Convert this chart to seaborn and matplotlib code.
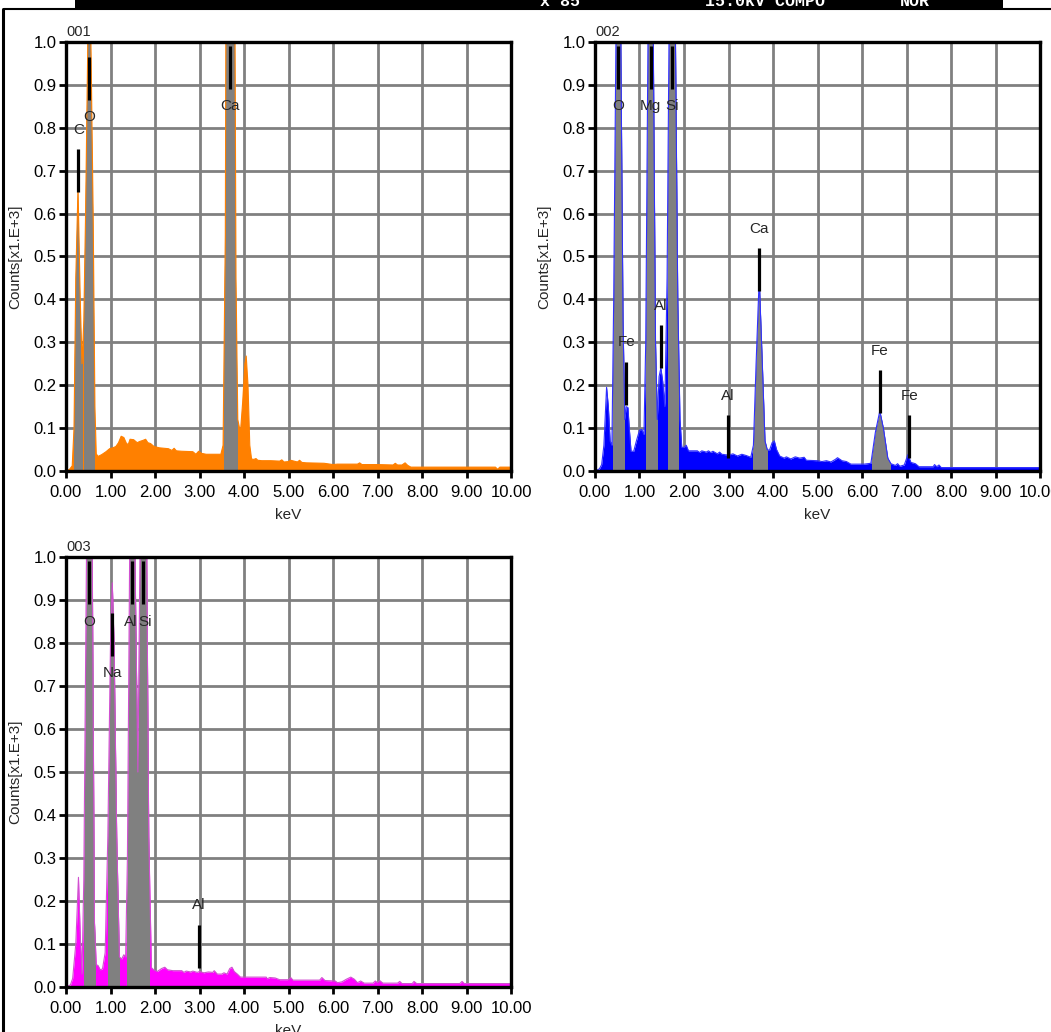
import numpy as np
import matplotlib
matplotlib.use("Agg")
import matplotlib.pyplot as plt
from matplotlib.patches import Rectangle
from matplotlib.lines import Line2D
import seaborn as sns

# ---------------- spectrum 001 ----------------
energy_001 = [0.00, 0.08, 0.14, 0.18, 0.22, 0.27, 0.32, 0.36, 0.40, 0.44, 0.49, 0.525, 0.56, 0.61,
              0.65, 0.68, 0.72, 0.80, 0.90, 0.98, 1.05, 1.12, 1.18, 1.24, 1.30, 1.36, 1.40, 1.44,
              1.52, 1.60, 1.66, 1.72, 1.79, 1.84, 1.90, 1.98, 2.10, 2.30, 2.38, 2.43, 2.48, 2.60,
              2.85, 2.92, 2.98, 3.05, 3.15, 3.48, 3.53, 3.58, 3.62, 3.69, 3.76, 3.82, 3.86, 3.92,
              3.97, 4.02, 4.05, 4.09, 4.13, 4.17, 4.22, 4.27, 4.31, 4.40, 4.60, 4.80, 4.85, 4.90,
              5.00, 5.05, 5.20, 5.25, 5.30, 5.40, 5.80, 6.00, 6.10, 6.55, 6.60, 6.65, 7.00, 7.35,
              7.40, 7.45, 7.55, 7.62, 7.68, 7.75, 9.65, 9.70, 9.75, 10.00]
counts_001 = [0.000, 0.004, 0.012, 0.10, 0.45, 0.66, 0.40, 0.25, 0.35, 0.60, 1.00, 1.20, 1.00, 0.60,
              0.15, 0.040, 0.034, 0.038, 0.045, 0.052, 0.054, 0.057, 0.066, 0.081, 0.078, 0.064, 0.062, 0.074,
              0.073, 0.066, 0.069, 0.071, 0.074, 0.066, 0.064, 0.057, 0.054, 0.052, 0.048, 0.053, 0.047, 0.046,
              0.045, 0.039, 0.046, 0.041, 0.039, 0.039, 0.06, 0.55, 2.00, 4.00, 2.00, 0.45, 0.12, 0.09,
              0.16, 0.25, 0.268, 0.20, 0.06, 0.028, 0.027, 0.029, 0.025, 0.024, 0.024, 0.023, 0.026, 0.021,
              0.022, 0.025, 0.021, 0.025, 0.020, 0.019, 0.018, 0.015, 0.016, 0.016, 0.019, 0.015, 0.015, 0.014,
              0.018, 0.014, 0.014, 0.019, 0.013, 0.009, 0.009, 0.004, 0.009, 0.009]
roi_001 = [(0.19, 0.39), (0.40, 0.66), (3.56, 3.86)]
lines_001 = ["C", "O", "Ca"]
line_kev_001 = [0.277, 0.525, 3.69]
line_top_001 = [0.75, 0.965, 0.99]

# ---------------- spectrum 002 ----------------
energy_002 = [0.00, 0.10, 0.15, 0.20, 0.26, 0.30, 0.34, 0.38, 0.42, 0.47, 0.525, 0.58, 0.63, 0.67,
              0.70, 0.74, 0.77, 0.81, 0.87, 0.93, 1.00, 1.05, 1.10, 1.14, 1.19, 1.253, 1.31, 1.36,
              1.40, 1.44, 1.48, 1.52, 1.57, 1.62, 1.67, 1.739, 1.80, 1.86, 1.91, 1.95, 2.00, 2.05,
              2.10, 2.30, 2.35, 2.40, 2.50, 2.55, 2.60, 2.65, 2.75, 2.80, 2.85, 3.00, 3.10, 3.20,
              3.30, 3.40, 3.50, 3.56, 3.62, 3.69, 3.76, 3.82, 3.87, 3.92, 3.98, 4.03, 4.08, 4.15,
              4.25, 4.30, 4.40, 4.50, 4.60, 4.70, 4.75, 5.00, 5.10, 5.20, 5.30, 5.40, 5.45, 5.55,
              5.65, 5.75, 6.05, 6.20, 6.30, 6.40, 6.48, 6.58, 6.65, 6.75, 6.80, 6.85, 6.95, 7.03,
              7.10, 7.20, 7.28, 7.60, 7.63, 7.68, 7.73, 7.78, 10.00]
counts_002 = [0.000, 0.005, 0.015, 0.06, 0.195, 0.15, 0.07, 0.06, 0.40, 1.00, 1.50, 1.00, 0.35, 0.12,
              0.15, 0.148, 0.10, 0.046, 0.046, 0.07, 0.095, 0.097, 0.085, 0.30, 1.00, 1.50, 1.00, 0.30,
              0.12, 0.22, 0.24, 0.21, 0.15, 0.45, 1.10, 1.70, 1.10, 0.40, 0.12, 0.055, 0.055, 0.060,
              0.047, 0.047, 0.043, 0.047, 0.044, 0.047, 0.043, 0.046, 0.040, 0.044, 0.039, 0.037, 0.040, 0.035,
              0.039, 0.036, 0.032, 0.06, 0.25, 0.45, 0.25, 0.07, 0.05, 0.048, 0.066, 0.070, 0.050, 0.035,
              0.030, 0.033, 0.028, 0.033, 0.030, 0.032, 0.025, 0.024, 0.022, 0.024, 0.021, 0.027, 0.031, 0.024,
              0.022, 0.016, 0.016, 0.018, 0.09, 0.14, 0.10, 0.030, 0.017, 0.013, 0.017, 0.011, 0.014, 0.038,
              0.020, 0.017, 0.010, 0.010, 0.015, 0.010, 0.014, 0.008, 0.008]
roi_002 = [(0.41, 0.65), (1.14, 1.39), (1.63, 1.87), (3.56, 3.86), (6.22, 6.63)]
lines_002 = ["O", "Fe", "Mg", "Al", "Si", "Al", "Ca", "Fe", "Fe"]
line_kev_002 = [0.525, 0.705, 1.253, 1.486, 1.739, 2.98, 3.69, 6.40, 7.06]
line_top_002 = [0.99, 0.255, 0.99, 0.34, 0.99, 0.13, 0.52, 0.235, 0.13]

# ---------------- spectrum 003 ----------------
energy_003 = [0.00, 0.10, 0.15, 0.22, 0.28, 0.32, 0.36, 0.40, 0.46, 0.525, 0.59, 0.64, 0.68, 0.72,
              0.77, 0.82, 0.88, 0.94, 1.00, 1.04, 1.08, 1.14, 1.20, 1.25, 1.30, 1.34, 1.38, 1.43,
              1.49, 1.55, 1.615, 1.68, 1.739, 1.80, 1.86, 1.92, 1.97, 2.05, 2.15, 2.22, 2.28, 2.40,
              2.60, 2.65, 2.70, 2.80, 2.85, 2.95, 3.00, 3.10, 3.20, 3.30, 3.33, 3.40, 3.50, 3.55,
              3.62, 3.68, 3.73, 3.78, 3.85, 3.92, 4.50, 4.52, 4.58, 4.70, 4.80, 5.00, 5.05, 5.10,
              5.70, 5.75, 5.82, 6.05, 6.10, 6.20, 6.30, 6.40, 6.48, 6.55, 6.62, 6.70, 6.90, 6.95,
              7.00, 7.05, 7.12, 7.45, 7.50, 7.55, 7.78, 7.82, 7.88, 8.85, 8.90, 8.95, 10.00]
counts_003 = [0.000, 0.005, 0.02, 0.10, 0.255, 0.12, 0.03, 0.25, 1.00, 1.60, 1.00, 0.15, 0.052, 0.050,
              0.040, 0.042, 0.08, 0.35, 0.80, 0.94, 0.80, 0.35, 0.07, 0.065, 0.075, 0.070, 0.30, 1.00,
              1.60, 1.00, 0.50, 1.20, 1.90, 1.20, 0.35, 0.045, 0.040, 0.036, 0.043, 0.046, 0.040, 0.038,
              0.038, 0.034, 0.037, 0.035, 0.037, 0.034, 0.036, 0.033, 0.035, 0.034, 0.038, 0.030, 0.030, 0.033,
              0.030, 0.043, 0.046, 0.036, 0.030, 0.023, 0.023, 0.019, 0.022, 0.021, 0.017, 0.017, 0.022, 0.016,
              0.016, 0.022, 0.015, 0.014, 0.010, 0.012, 0.018, 0.023, 0.018, 0.010, 0.014, 0.009, 0.009, 0.014,
              0.010, 0.015, 0.009, 0.009, 0.013, 0.008, 0.008, 0.013, 0.008, 0.008, 0.013, 0.008, 0.008]
roi_003 = [(0.41, 0.65), (0.94, 1.19), (1.37, 1.62), (1.62, 1.87)]
lines_003 = ["O", "Na", "Al", "Si", "Al"]
line_kev_003 = [0.525, 1.04, 1.486, 1.739, 2.98]
line_top_003 = [0.99, 0.87, 0.99, 0.99, 0.145]

x_ticks = list(range(0, 11))
y_ticks = [round(0.1 * i, 1) for i in range(0, 11)]

# ---------------- style ----------------
sns.set_style("white")
plt.rcParams["font.family"] = ["Liberation Sans Narrow", "Liberation Sans", "DejaVu Sans"]
plt.rcParams["axes.unicode_minus"] = False

W, H = 1051, 1032
fig = plt.figure(figsize=(W / 100, H / 100), dpi=100)
fig.patch.set_facecolor("white")


def box(x0, y0, x1, y1):
    return [x0 / W, 1 - y1 / H, (x1 - x0) / W, (y1 - y0) / H]


GRID = "#808080"
ROI = "#808080"
MARK_LEN = 0.1


def spectrum(ax, energy, counts, fill, edge, rois, names, kev, tops, tag):
    ax.set_xlim(0, 10)
    ax.set_ylim(0, 1)
    ax.set_axisbelow(True)
    ax.grid(True, color=GRID, lw=2.0)

    ax.fill_between(energy, counts, 0, color=fill, lw=0, zorder=2)
    # identified peak windows are shaded grey
    for lo, hi in rois:
        poly = ax.fill_between(energy, counts, 0, color=ROI, lw=0, zorder=3)
        poly.set_clip_path(Rectangle((lo, 0), hi - lo, 1.0, transform=ax.transData))
    sns.lineplot(x=energy, y=counts, ax=ax, color=edge, lw=0.8, zorder=4,
                 estimator=None, sort=False)

    # element markers: label above short bars, below bars reaching the top
    below = [top > 0.85 for top in tops]
    shift = [0.0] * len(names)
    for i in range(len(names) - 1):
        if below[i] and below[i + 1] and kev[i + 1] - kev[i] < 0.35:
            shift[i] -= 0.03
            shift[i + 1] += 0.03
    for name, e, top, b, dx in zip(names, kev, tops, below, shift):
        ax.plot([e, e], [top - MARK_LEN, top], color="black", lw=2.3, zorder=6,
                solid_capstyle="butt", clip_on=False)
        ty = top - MARK_LEN - 0.04 if b else top + 0.045
        ax.text(e + dx, ty, name, ha="center", va="center", fontsize=11, zorder=7)

    ax.set_xticks(x_ticks)
    ax.set_xticklabels([f"{v:.2f}" for v in x_ticks])
    ax.set_yticks(y_ticks)
    ax.set_yticklabels([f"{v:.1f}" for v in y_ticks])
    ax.tick_params(axis="both", direction="out", length=5, width=2, colors="black",
                   labelsize=12, bottom=True, left=True)
    ax.tick_params(axis="x", pad=5)
    ax.tick_params(axis="y", pad=2)
    for s in ax.spines.values():
        s.set_color("black")
        s.set_linewidth(2.4)
        s.set_zorder(8)
    ax.set_xlabel("keV", fontsize=11, labelpad=6)
    ax.set_ylabel("Counts[x1.E+3]", fontsize=11, labelpad=8)
    ax.text(0.0, 1.006, tag, transform=ax.transAxes, ha="left", va="bottom", fontsize=10.5)


ax1 = fig.add_axes(box(66, 42, 511, 471))
ax2 = fig.add_axes(box(595, 42, 1040, 471))
ax3 = fig.add_axes(box(66, 557, 511, 987))

spectrum(ax1, energy_001, counts_001, "#FF8000", "#FF8000", roi_001,
         lines_001, line_kev_001, line_top_001, "001")
spectrum(ax2, energy_002, counts_002, "#0000FF", "#3030FF", roi_002,
         lines_002, line_kev_002, line_top_002, "002")
spectrum(ax3, energy_003, counts_003, "#FF00FF", "#D050D0", roi_003,
         lines_003, line_kev_003, line_top_003, "003")

# instrument header strip and page frame
fig.add_artist(Rectangle((75 / W, 1 - 8 / H), (1003 - 75) / W, 8 / H + 0.01,
                         transform=fig.transFigure, facecolor="black", edgecolor="none"))
for xp, txt in [(540, "x 85"), (705, "15.0kV COMPO"), (900, "NOR")]:
    fig.text(xp / W, 1 - 6 / H, txt, color="white", family="Liberation Mono",
             weight="bold", fontsize=12, va="baseline", ha="left")
fig.add_artist(Line2D([4 / W, 1], [1 - 9 / H, 1 - 9 / H], transform=fig.transFigure,
                      color="black", lw=1.5))
fig.add_artist(Line2D([3 / W, 3 / W], [0, 1 - 9 / H], transform=fig.transFigure,
                      color="black", lw=2.2))

fig.savefig("out.png", dpi=100, facecolor="white")
